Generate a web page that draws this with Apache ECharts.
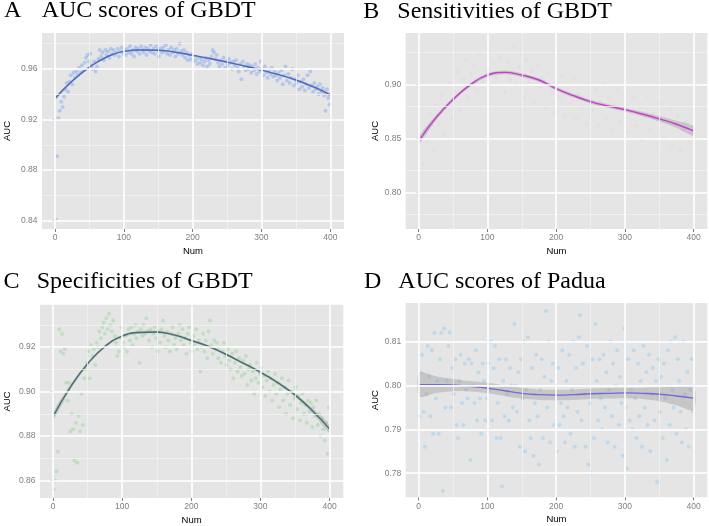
<!DOCTYPE html>
<html><head><meta charset="utf-8">
<script src="https://cdn.jsdelivr.net/npm/echarts@6/dist/echarts.min.js"></script>
<style>html,body{margin:0;padding:0;background:#fff}#c{width:709px;height:526px}</style>
</head><body><div id="c"></div>
<script>
// ---------- tick labels ----------
const numTicks = [0, 100, 200, 300, 400];
const numMinor = [50, 150, 250, 350];
const aTicks = [0.84, 0.88, 0.92, 0.96];
const aMinor = [0.86, 0.90, 0.94, 0.98];
const bTicks = [0.80, 0.85, 0.90];
const bMinor = [0.775, 0.825, 0.875, 0.925];
const cTicks = [0.86, 0.88, 0.90, 0.92];
const cMinor = [0.87, 0.89, 0.91, 0.93];
const dTicks = [0.78, 0.79, 0.80, 0.81];
const dMinor = [0.775, 0.785, 0.795, 0.805, 0.815];

// ---------- scatter values (Num = 1,3,5,...,399 for A, C, D; 1,5,9,...,397 for B) ----------
const aucGbdt = [.841,.891,.921,.927,.934,.930,.938,.944,.949,.942,.950,.955,.948,.957,.953,.958,.955,.961,.957,.963,
.959,.965,.969,.971,.966,.972,.963,.960,.966,.958,.962,.968,.975,.970,.973,.967,.975,.971,.974,.969,
.976,.972,.975,.971,.973,.976,.970,.974,.977,.972,.975,.971,.976,.973,.978,.972,.975,.970,.977,.974,
.976,.972,.978,.975,.973,.977,.971,.976,.974,.979,.973,.976,.972,.978,.975,.970,.976,.973,.977,.974,
.979,.972,.975,.971,.977,.973,.975,.970,.976,.972,.980,.974,.971,.975,.969,.973,.967,.971,.968,.972,
.966,.970,.967,.964,.969,.965,.968,.963,.966,.969,.962,.967,.964,.970,.975,.973,.968,.971,.965,.962,
.967,.964,.969,.961,.966,.963,.968,.965,.960,.966,.963,.967,.961,.958,.964,.952,.966,.962,.959,.964,
.960,.963,.957,.962,.959,.964,.956,.961,.958,.966,.960,.955,.962,.957,.953,.959,.956,.961,.954,.958,
.955,.951,.957,.953,.959,.948,.955,.962,.951,.956,.949,.953,.960,.947,.952,.949,.955,.944,.950,.946,
.952,.943,.948,.955,.945,.958,.947,.942,.949,.944,.946,.940,.948,.942,.945,.939,.927,.944,.937,.932];

const sensGbdt = [.841,.826,.857,.848,.872,.839,.881,.862,.890,.853,.878,.901,.869,.893,.912,.876,.904,.922,.888,.909,
.917,.895,.928,.903,.913,.931,.898,.919,.906,.925,.911,.893,.921,.904,.934,.899,.916,.908,.889,.923,
.902,.912,.884,.918,.897,.906,.879,.911,.893,.874,.902,.887,.908,.871,.896,.883,.905,.868,.891,.879,
.899,.864,.887,.875,.896,.862,.884,.901,.869,.888,.857,.881,.894,.866,.878,.891,.855,.874,.887,.862,
.879,.848,.871,.889,.858,.873,.845,.868,.882,.851,.866,.877,.843,.862,.871,.839,.858,.866,.846,.855];

const specGbdt = [.856,.860,.864,.873,.928,.918,.926,.917,.919,.904,.896,.904,.882,.890,.883,.869,.886,.868,.889,.882,
.899,.885,.906,.910,.913,.918,.906,.921,.916,.919,.912,.922,.920,.927,.924,.929,.931,.926,.933,.928,
.935,.930,.927,.932,.925,.922,.916,.918,.924,.929,.922,.920,.925,.918,.928,.923,.929,.921,.926,.930,
.924,.927,.913,.928,.925,.930,.926,.933,.927,.923,.928,.920,.926,.929,.924,.918,.927,.922,.928,.932,
.925,.920,.927,.923,.918,.926,.929,.921,.924,.919,.926,.930,.923,.928,.921,.924,.917,.926,.929,.922,
.918,.925,.921,.928,.919,.923,.909,.920,.926,.918,.923,.915,.927,.932,.921,.917,.923,.919,.922,.915,
.920,.913,.918,.922,.916,.912,.919,.914,.910,.917,.906,.913,.918,.909,.915,.911,.907,.914,.908,.916,
.903,.910,.912,.905,.909,.899,.906,.913,.904,.908,.911,.902,.907,.898,.905,.909,.900,.906,.896,.903,
.908,.899,.904,.893,.901,.906,.896,.902,.890,.899,.905,.894,.900,.888,.897,.902,.892,.898,.887,.895,
.899,.890,.894,.886,.896,.891,.895,.884,.893,.889,.896,.885,.890,.880,.888,.883,.878,.886,.872,.893];

const aucPadua = [.793,.803,.807,.794,.786,.798,.809,.802,.793,.808,.789,.812,.797,.801,.789,.806,.812,.776,.813,.795,
.801,.809,.812,.795,.804,.798,.806,.791,.788,.801,.807,.796,.791,.805,.799,.797,.806,.783,.805,.800,
.796,.808,.792,.803,.797,.789,.805,.801,.792,.797,.805,.799,.810,.792,.804,.809,.788,.796,.806,.788,
.777,.801,.793,.806,.798,.792,.804,.800,.795,.814,.800,.794,.803,.786,.806,.797,.810,.785,.799,.811,
.792,.788,.804,.784,.796,.807,.793,.782,.799,.806,.788,.802,.817,.795,.810,.787,.801,.805,.791,.798,
.785,.804,.791,.796,.808,.793,.787,.801,.795,.807,.789,.799,.810,.786,.804,.794,.811,.816,.792,.805,
.798,.786,.809,.782,.796,.780,.806,.788,.814,.801,.792,.806,.797,.790,.807,.795,.803,.787,.799,.810,
.793,.805,.786,.800,.808,.791,.802,.796,.784,.813,.795,.781,.806,.792,.799,.790,.808,.797,.788,.805,
.793,.801,.786,.809,.795,.803,.791,.807,.785,.798,.804,.792,.801,.778,.806,.794,.802,.788,.805,.797,
.783,.808,.791,.810,.799,.795,.811,.789,.806,.801,.794,.787,.810,.798,.790,.803,.786,.799,.806,.794];

// ---------- smoothed fits (value and half-width of the grey band) ----------
const fitNum = [1,25,50,75,100,125,150,175,200,225,250,275,300,325,350,375,400];
const fitA  = [.9373,.9505,.9615,.9695,.9740,.9750,.9748,.9733,.9708,.9683,.9655,.9625,.9592,.9555,.9513,.9460,.9396];
const bandA = [.0015,.0010,.0008,.0007,.0007,.0007,.0007,.0007,.0007,.0007,.0007,.0007,.0007,.0007,.0008,.0010,.0015];
const fitB  = [.8484,.8690,.8860,.8995,.9085,.9110,.9085,.9040,.8960,.8895,.8840,.8800,.8765,.8725,.8680,.8630,.8568];
const bandB = [.0035,.0025,.0020,.0018,.0018,.0018,.0018,.0018,.0018,.0018,.0018,.0018,.0018,.0020,.0025,.0033,.0045];
const fitC  = [.8894,.9020,.9125,.9203,.9250,.9266,.9268,.9255,.9230,.9203,.9168,.9128,.9087,.9040,.8985,.8915,.8832];
const bandC = [.0018,.0012,.0008,.0007,.0006,.0006,.0006,.0006,.0006,.0006,.0006,.0006,.0007,.0007,.0008,.0012,.0018];
const fitD  = [.8002,.8002,.8001,.7998,.7994,.7988,.7982,.7979,.7978,.7979,.7981,.7982,.7983,.7982,.7980,.7976,.7971];
const bandD = [.0027,.0019,.0014,.0012,.0012,.0012,.0012,.0012,.0012,.0012,.0012,.0012,.0012,.0013,.0016,.0021,.0027];

// ---------- build ----------
const toPts = (vals, start, step) => vals.map((v, i) => [start + i * step, v]);
const sans = 'Liberation Sans, Arial, sans-serif';
const serif = 'Liberation Serif, Times New Roman, serif';

const grids = [
  {left: 42, top: 33, width: 302, height: 196},
  {left: 405.7, top: 33, width: 301.6, height: 196},
  {left: 40, top: 304.7, width: 303.3, height: 194.3},
  {left: 405.7, top: 303, width: 301.6, height: 194.3}
];
const yRanges = [[0.8334, 0.9885], [0.766, 0.9475], [0.8521, 0.9391], [0.7745, 0.8188]];
const yTickSets = [aTicks, bTicks, cTicks, dTicks];
const yMinorSets = [aMinor, bMinor, cMinor, dMinor];
const yNameGaps = [30, 25, 28, 25];

const xAxes = [], yAxes = [], series = [];
grids.forEach((g, i) => {
  xAxes.push({
    type: 'value', gridIndex: i, min: -18.95, max: 419.95,
    axisLine: {show: false}, splitLine: {show: false},
    axisTick: {show: true, length: 3, lineStyle: {color: '#7f7f7f', width: 1}, customValues: numTicks},
    axisLabel: {customValues: numTicks, color: '#7f7f7f', fontSize: 8.5, fontFamily: sans, margin: 4.5},
    name: 'Num', nameLocation: 'middle', nameGap: 17,
    nameTextStyle: {color: '#000', fontSize: 9.5, fontFamily: sans}
  });
  yAxes.push({
    type: 'value', gridIndex: i, min: yRanges[i][0], max: yRanges[i][1],
    axisLine: {show: false}, splitLine: {show: false},
    axisTick: {show: true, length: 3, lineStyle: {color: '#7f7f7f', width: 1}, customValues: yTickSets[i]},
    axisLabel: {customValues: yTickSets[i], color: '#7f7f7f', fontSize: 8.5, fontFamily: sans, margin: 4.5,
      formatter: v => v.toFixed(2)},
    name: 'AUC', nameLocation: 'middle', nameGap: yNameGaps[i], nameRotate: 90,
    nameTextStyle: {color: '#000', fontSize: 9.5, fontFamily: sans}
  });
  const ml = [];
  numMinor.forEach(v => ml.push({xAxis: v, lineStyle: {color: '#f2f2f2', width: 0.8, type: 'solid'}}));
  yMinorSets[i].forEach(v => ml.push({yAxis: v, lineStyle: {color: '#f2f2f2', width: 0.8, type: 'solid'}}));
  numTicks.forEach(v => ml.push({xAxis: v, lineStyle: {color: '#ffffff', width: 1.6, type: 'solid'}}));
  yTickSets[i].forEach(v => ml.push({yAxis: v, lineStyle: {color: '#ffffff', width: 1.6, type: 'solid'}}));
  series.push({
    type: 'line', xAxisIndex: i, yAxisIndex: i, data: [], z: 1, silent: true,
    markLine: {silent: true, symbol: ['none', 'none'], label: {show: false}, animation: false, data: ml}
  });
});

const panels = [
  {pts: toPts(aucGbdt, 1, 2), fit: fitA, band: bandA, pc: 'rgba(100,149,237,0.45)', lc: '#4a66c8'},
  {pts: toPts(sensGbdt, 1, 4), fit: fitB, band: bandB, pc: 'rgba(235,120,220,0.08)', lc: '#c63cd0'},
  {pts: toPts(specGbdt, 1, 2), fit: fitC, band: bandC, pc: 'rgba(144,210,144,0.5)', lc: '#416e70'},
  {pts: toPts(aucPadua, 1, 2), fit: fitD, band: bandD, pc: 'rgba(135,200,245,0.5)', lc: '#7467db'}
];
panels.forEach((p, i) => {
  series.push({
    type: 'scatter', xAxisIndex: i, yAxisIndex: i, data: p.pts, z: 2,
    symbolSize: 4, itemStyle: {color: p.pc}, silent: true
  });
  series.push({
    type: 'custom', xAxisIndex: i, yAxisIndex: i, z: 3, silent: true,
    data: [[fitNum[0], p.fit[0]]],
    renderItem: (params, api) => {
      const up = fitNum.map((x, k) => api.coord([x, p.fit[k] + p.band[k]]));
      const lo = fitNum.map((x, k) => api.coord([x, p.fit[k] - p.band[k]])).reverse();
      return {type: 'polygon', shape: {points: up.concat(lo), smooth: 0.3},
              style: {fill: 'rgba(153,153,153,0.4)'}};
    }
  });
  series.push({
    type: 'line', xAxisIndex: i, yAxisIndex: i, z: 4, silent: true,
    data: fitNum.map((x, k) => [x, p.fit[k]]), smooth: true, showSymbol: false,
    lineStyle: {color: p.lc, width: 1.4}
  });
});

const tStyle = {fontFamily: serif, fontSize: 24, fontWeight: 'normal', color: '#000'};
const titles = [
  {text: 'A', left: 4, top: -1}, {text: 'AUC scores of GBDT', left: 41.7, top: -1},
  {text: 'B', left: 363.3, top: 0}, {text: 'Sensitivities of GBDT', left: 397.3, top: 0},
  {text: 'C', left: 3.5, top: 269.5}, {text: 'Specificities of GBDT', left: 36.7, top: 269.5},
  {text: 'D', left: 364, top: 269.5}, {text: 'AUC scores of Padua', left: 398.3, top: 269.5}
].map(t => Object.assign(t, {padding: 0, textStyle: tStyle}));

const chart = echarts.init(document.getElementById('c'), null, {renderer: 'canvas'});
chart.setOption({
  animation: false,
  backgroundColor: '#ffffff',
  title: titles,
  grid: grids.map(g => Object.assign({show: true, backgroundColor: '#e5e5e5', borderWidth: 0}, g)),
  xAxis: xAxes,
  yAxis: yAxes,
  series: series
});
</script>
</body></html>
